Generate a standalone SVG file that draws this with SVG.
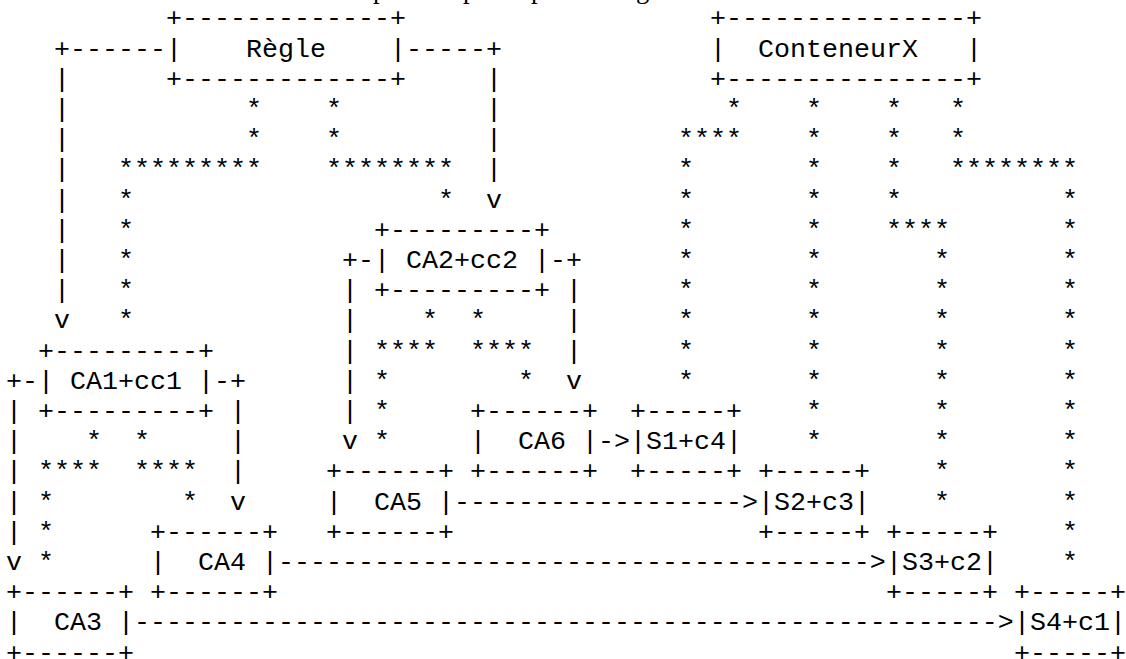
<svg xmlns="http://www.w3.org/2000/svg" width="1126" height="659" viewBox="0 0 1126 659" xml:space="preserve">
<style>
text { font-family: "Liberation Mono", "Courier New", monospace; font-size: 26.667px; fill: #000; white-space: pre; }
text.cap { font-family: "Liberation Serif", "Times New Roman", serif; }
</style>
<rect width="1126" height="659" fill="#fff"/>
<g id="caption">
<text class="cap" x="373" y="-2">p</text>
<text class="cap" x="463" y="-2">p</text>
<text class="cap" x="531" y="-2">p</text>
<text class="cap" x="636" y="-2">g</text>
</g>
<g id="node-regle">
<text x="166" y="26.3">+-------------+</text>
<text x="166" y="56.5">|    Règle    |</text>
<text x="166" y="86.7">+-------------+</text>
</g>
<g id="node-conteneurx">
<text x="710" y="26.3">+---------------+</text>
<text x="710" y="56.5">|  ConteneurX   |</text>
<text x="710" y="86.7">+---------------+</text>
</g>
<g id="node-ca2">
<text x="374" y="237.7">+---------+</text>
<text x="374" y="267.9">| CA2+cc2 |</text>
<text x="374" y="298.1">+---------+</text>
</g>
<g id="node-ca1">
<text x="38" y="358.5">+---------+</text>
<text x="38" y="388.7">| CA1+cc1 |</text>
<text x="38" y="418.9">+---------+</text>
</g>
<g id="node-ca6">
<text x="470" y="418.9">+------+</text>
<text x="470" y="449.1">|  CA6 |</text>
<text x="470" y="479.3">+------+</text>
</g>
<g id="node-s1">
<text x="630" y="418.9">+-----+</text>
<text x="630" y="449.1">|S1+c4|</text>
<text x="630" y="479.3">+-----+</text>
</g>
<g id="node-ca5">
<text x="326" y="479.3">+------+</text>
<text x="326" y="509.5">|  CA5 |</text>
<text x="326" y="539.7">+------+</text>
</g>
<g id="node-s2">
<text x="758" y="479.3">+-----+</text>
<text x="758" y="509.5">|S2+c3|</text>
<text x="758" y="539.7">+-----+</text>
</g>
<g id="node-ca4">
<text x="150" y="539.7">+------+</text>
<text x="150" y="569.9">|  CA4 |</text>
<text x="150" y="600.1">+------+</text>
</g>
<g id="node-s3">
<text x="886" y="539.7">+-----+</text>
<text x="886" y="569.9">|S3+c2|</text>
<text x="886" y="600.1">+-----+</text>
</g>
<g id="node-ca3">
<text x="6" y="600.1">+------+</text>
<text x="6" y="630.3">|  CA3 |</text>
<text x="6" y="660.5">+------+</text>
</g>
<g id="node-s4">
<text x="1014" y="600.1">+-----+</text>
<text x="1014" y="630.3">|S4+c1|</text>
<text x="1014" y="660.5">+-----+</text>
</g>
<g id="connectors">
<text x="54" y="56.5">+------</text>
<text x="406" y="56.5">-----+</text>
<text x="54" y="86.7">|</text><text x="486" y="86.7">|</text>
<text x="54" y="116.9">|</text><text x="246" y="116.9">*</text><text x="326" y="116.9">*</text><text x="486" y="116.9">|</text>
<text x="726" y="116.9">*</text><text x="806" y="116.9">*</text><text x="886" y="116.9">*</text><text x="950" y="116.9">*</text>
<text x="54" y="147.1">|</text><text x="246" y="147.1">*</text><text x="326" y="147.1">*</text><text x="486" y="147.1">|</text>
<text x="678" y="147.1">****</text><text x="806" y="147.1">*</text><text x="886" y="147.1">*</text><text x="950" y="147.1">*</text>
<text x="54" y="177.3">|</text><text x="118" y="177.3">*********</text><text x="326" y="177.3">********</text><text x="486" y="177.3">|</text>
<text x="678" y="177.3">*</text><text x="806" y="177.3">*</text><text x="886" y="177.3">*</text><text x="950" y="177.3">********</text>
<text x="54" y="207.5">|</text><text x="118" y="207.5">*</text><text x="438" y="207.5">*</text><text x="486" y="207.5">v</text>
<text x="678" y="207.5">*</text><text x="806" y="207.5">*</text><text x="886" y="207.5">*</text><text x="1062" y="207.5">*</text>
<text x="54" y="237.7">|</text><text x="118" y="237.7">*</text>
<text x="678" y="237.7">*</text><text x="806" y="237.7">*</text><text x="886" y="237.7">****</text><text x="1062" y="237.7">*</text>
<text x="54" y="267.9">|</text><text x="118" y="267.9">*</text><text x="342" y="267.9">+-</text><text x="550" y="267.9">-+</text>
<text x="678" y="267.9">*</text><text x="806" y="267.9">*</text><text x="934" y="267.9">*</text><text x="1062" y="267.9">*</text>
<text x="54" y="298.1">|</text><text x="118" y="298.1">*</text><text x="342" y="298.1">|</text><text x="566" y="298.1">|</text>
<text x="678" y="298.1">*</text><text x="806" y="298.1">*</text><text x="934" y="298.1">*</text><text x="1062" y="298.1">*</text>
<text x="54" y="328.3">v</text><text x="118" y="328.3">*</text><text x="342" y="328.3">|</text><text x="422" y="328.3">*</text><text x="470" y="328.3">*</text><text x="566" y="328.3">|</text>
<text x="678" y="328.3">*</text><text x="806" y="328.3">*</text><text x="934" y="328.3">*</text><text x="1062" y="328.3">*</text>
<text x="342" y="358.5">|</text><text x="374" y="358.5">****</text><text x="470" y="358.5">****</text><text x="566" y="358.5">|</text>
<text x="678" y="358.5">*</text><text x="806" y="358.5">*</text><text x="934" y="358.5">*</text><text x="1062" y="358.5">*</text>
<text x="6" y="388.7">+-</text><text x="214" y="388.7">-+</text><text x="342" y="388.7">|</text><text x="374" y="388.7">*</text><text x="518" y="388.7">*</text><text x="566" y="388.7">v</text>
<text x="678" y="388.7">*</text><text x="806" y="388.7">*</text><text x="934" y="388.7">*</text><text x="1062" y="388.7">*</text>
<text x="6" y="418.9">|</text><text x="230" y="418.9">|</text><text x="342" y="418.9">|</text><text x="374" y="418.9">*</text>
<text x="806" y="418.9">*</text><text x="934" y="418.9">*</text><text x="1062" y="418.9">*</text>
<text x="6" y="449.1">|</text><text x="86" y="449.1">*</text><text x="134" y="449.1">*</text><text x="230" y="449.1">|</text><text x="342" y="449.1">v</text><text x="374" y="449.1">*</text>
<text x="598" y="449.1">-&gt;</text>
<text x="806" y="449.1">*</text><text x="934" y="449.1">*</text><text x="1062" y="449.1">*</text>
<text x="6" y="479.3">|</text><text x="38" y="479.3">****</text><text x="134" y="479.3">****</text><text x="230" y="479.3">|</text>
<text x="934" y="479.3">*</text><text x="1062" y="479.3">*</text>
<text x="6" y="509.5">|</text><text x="38" y="509.5">*</text><text x="182" y="509.5">*</text><text x="230" y="509.5">v</text>
<text x="454" y="509.5">------------------&gt;</text>
<text x="934" y="509.5">*</text><text x="1062" y="509.5">*</text>
<text x="6" y="539.7">|</text><text x="38" y="539.7">*</text><text x="1062" y="539.7">*</text>
<text x="6" y="569.9">v</text><text x="38" y="569.9">*</text>
<text x="278" y="569.9">-------------------------------------&gt;</text>
<text x="1062" y="569.9">*</text>
<text x="134" y="630.3">------------------------------------------------------&gt;</text>
</g>
</svg>
